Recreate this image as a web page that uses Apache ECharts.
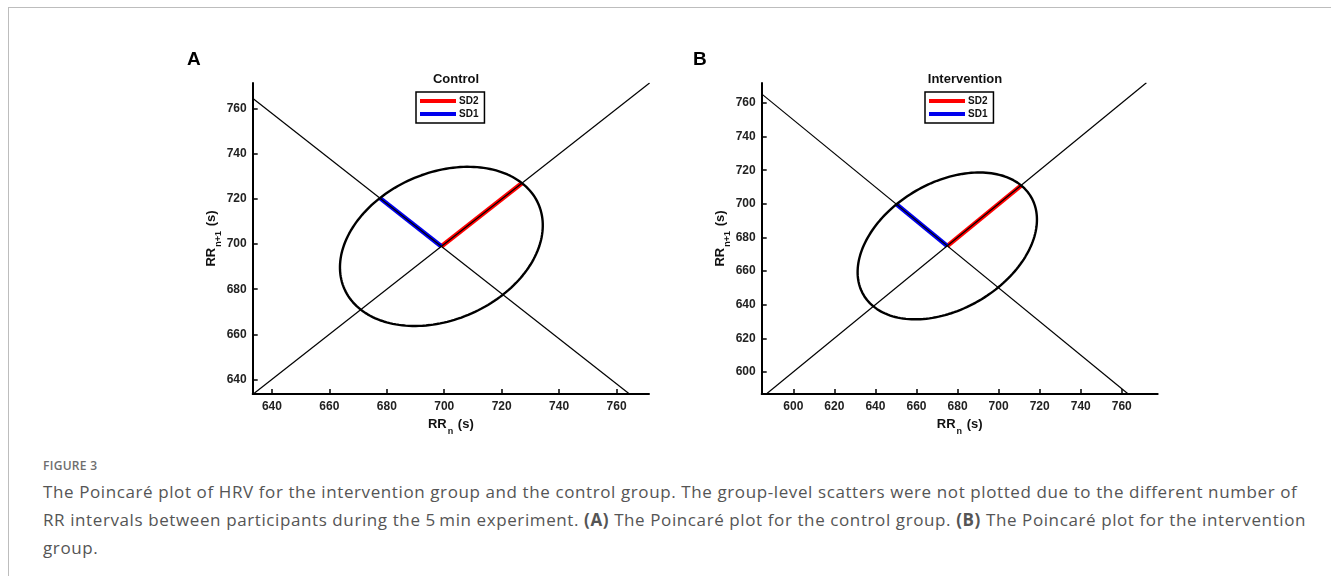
<!DOCTYPE html>
<html>
<head>
<meta charset="utf-8">
<script src="https://cdn.jsdelivr.net/npm/echarts@6/dist/echarts.min.js"></script>
<style>
html, body { margin: 0; padding: 0; background: #fff; }
#frame { position: absolute; left: 8px; top: 7px; width: 1330px; height: 580px; border-left: 1.5px solid #bdbdbd; border-top: 1.5px solid #bdbdbd; }
#chart { position: absolute; left: 0; top: 0; width: 1331px; height: 445px; }
#caption { position: absolute; left: 43px; top: 458px; font-family: 'Open Sans', 'Noto Sans', sans-serif; color: #555; white-space: nowrap; }
#caption .fig { font-size: 12px; line-height: 16px; color: #6e6e6e; font-weight: 600; letter-spacing: 0.3px; }
#caption .txt { font-size: 17px; line-height: 28px; margin-top: 4px; letter-spacing: 0.6px; }
</style>
</head>
<body>
<div id="frame"></div>
<div id="chart"></div>
<div id="caption">
  <div class="fig">FIGURE 3</div>
  <div class="txt">The Poincaré plot of HRV for the intervention group and the control group. The group-level scatters were not plotted due to the different number of<br>RR intervals between participants during the 5&#8201;min experiment. <b>(A)</b> The Poincaré plot for the control group. <b>(B)</b> The Poincaré plot for the intervention<br>group.</div>
</div>
<script>
const titles = ['Control', 'Intervention']
const panelLabels = ['A', 'B']
const sdNames = ['SD2', 'SD1']

// A: control group
const centerA = [699, 699]
const sd1A = 30.3
const sd2A = 39.7
const identityA = [[633.5, 633.5], [771.5, 771.5]]
const perpA = [[633.5, 764.5], [764.5, 633.5]]
const xTicksA = [640, 660, 680, 700, 720, 740, 760]
const yTicksA = [640, 660, 680, 700, 720, 740, 760]

// B: intervention group
const centerB = [675, 675]
const sd1B = 35.0
const sd2B = 50.9
const identityB = [[587, 587], [772, 772]]
const perpB = [[585, 765], [763, 587]]
const xTicksB = [600, 620, 640, 660, 680, 700, 720, 740, 760]
const yTicksB = [600, 620, 640, 660, 680, 700, 720, 740, 760]

const FONT = "'Liberation Sans', Arial, sans-serif"
const K = Math.SQRT1_2

function ellipse (c, sd1, sd2) {
  const pts = []
  for (let i = 0; i <= 180; i++) {
    const t = i / 180 * 2 * Math.PI
    const a = sd2 * Math.cos(t)
    const b = sd1 * Math.sin(t)
    pts.push([c[0] + K * (a - b), c[1] + K * (a + b)])
  }
  return pts
}

// RR with a subscript: both tokens hang from the top of the line
const nameStyle = {
  fontFamily: FONT, fontWeight: 'bold', fontSize: 13, color: '#111',
  rich: {
    m: { fontFamily: FONT, fontWeight: 'bold', fontSize: 13, color: '#111', lineHeight: 14, verticalAlign: 'top' },
    sub: { fontFamily: FONT, fontWeight: 'bold', fontSize: 9, color: '#111', lineHeight: 10, padding: [9, 1, 0, 1], verticalAlign: 'top' }
  }
}

function xAxis (idx, min, max, ticks) {
  return {
    type: 'value', gridIndex: idx, min: min, max: max,
    name: '{m|RR}{sub|n}{m| (s)}', nameLocation: 'middle', nameGap: 22,
    nameTextStyle: nameStyle,
    axisLine: { show: true, onZero: false, lineStyle: { color: '#000', width: 2 } },
    axisTick: { show: true, inside: true, length: 5, customValues: ticks, lineStyle: { color: '#000', width: 1.5 } },
    axisLabel: { customValues: ticks, margin: 7, fontFamily: FONT, fontWeight: 'bold', fontSize: 12, color: '#222' },
    splitLine: { show: false }
  }
}

function yAxis (idx, min, max, ticks) {
  return {
    type: 'value', gridIndex: idx, min: min, max: max,
    name: '{m|RR}{sub|n+1}{m| (s)}', nameLocation: 'middle', nameGap: 33, nameRotate: 90,
    nameTextStyle: nameStyle,
    axisLine: { show: true, onZero: false, lineStyle: { color: '#000', width: 2 } },
    axisTick: { show: true, inside: true, length: 5, customValues: ticks, lineStyle: { color: '#000', width: 1.5 } },
    axisLabel: { customValues: ticks, margin: 6, fontFamily: FONT, fontWeight: 'bold', fontSize: 12, color: '#222' },
    splitLine: { show: false }
  }
}

function panelSeries (idx, c, sd1, sd2, identity, perp) {
  const thin = { color: '#000', width: 1.2 }
  return [
    {
      name: sdNames[0], type: 'line', xAxisIndex: idx, yAxisIndex: idx, showSymbol: false, silent: true,
      data: [c, [c[0] + K * sd2, c[1] + K * sd2]],
      itemStyle: { color: '#ff0000' }, lineStyle: { color: '#ff0000', width: 4.5 }
    },
    {
      name: sdNames[1], type: 'line', xAxisIndex: idx, yAxisIndex: idx, showSymbol: false, silent: true,
      data: [c, [c[0] - K * sd1, c[1] + K * sd1]],
      itemStyle: { color: '#0000ee' }, lineStyle: { color: '#0000ee', width: 4.5 }
    },
    {
      type: 'line', xAxisIndex: idx, yAxisIndex: idx, showSymbol: false, silent: true,
      data: ellipse(c, sd1, sd2), lineStyle: { color: '#000', width: 2.4 }
    },
    {
      type: 'line', xAxisIndex: idx, yAxisIndex: idx, showSymbol: false, silent: true,
      data: identity, lineStyle: thin
    },
    {
      type: 'line', xAxisIndex: idx, yAxisIndex: idx, showSymbol: false, silent: true,
      data: perp, lineStyle: thin
    }
  ]
}

function legend (left) {
  return {
    data: sdNames, orient: 'vertical', left: left, top: 92,
    icon: 'rect', itemWidth: 36, itemHeight: 4, itemGap: 3,
    padding: [4, 6, 4, 4], borderColor: '#000', borderWidth: 1.5,
    selectedMode: false,
    textStyle: { fontFamily: FONT, fontWeight: 'bold', fontSize: 10, color: '#111', padding: [0, 0, 0, -2] }
  }
}

const chart = echarts.init(document.getElementById('chart'), null, { renderer: 'canvas' })
chart.setOption({
  animation: false,
  title: [
    { text: panelLabels[0], left: 182, top: 45, textStyle: { fontFamily: FONT, fontWeight: 'bold', fontSize: 19, color: '#000' } },
    { text: panelLabels[1], left: 688, top: 45, textStyle: { fontFamily: FONT, fontWeight: 'bold', fontSize: 19, color: '#000' } },
    { text: titles[0], left: 451, top: 68, textAlign: 'center', textStyle: { fontFamily: FONT, fontWeight: 'bold', fontSize: 13, color: '#111' } },
    { text: titles[1], left: 960, top: 68, textAlign: 'center', textStyle: { fontFamily: FONT, fontWeight: 'bold', fontSize: 13, color: '#111' } }
  ],
  legend: [legend(416), legend(925)],
  grid: [
    { left: 252.7, top: 83, width: 396.3, height: 311 },
    { left: 761.7, top: 83, width: 396, height: 311 }
  ],
  xAxis: [xAxis(0, 633.3, 771.3, xTicksA), xAxis(1, 584.6, 777.5, xTicksB)],
  yAxis: [yAxis(0, 633.5, 771.5, yTicksA), yAxis(1, 586.9, 771.9, yTicksB)],
  series: [].concat(
    panelSeries(0, centerA, sd1A, sd2A, identityA, perpA),
    panelSeries(1, centerB, sd1B, sd2B, identityB, perpB)
  )
})
</script>
</body>
</html>
